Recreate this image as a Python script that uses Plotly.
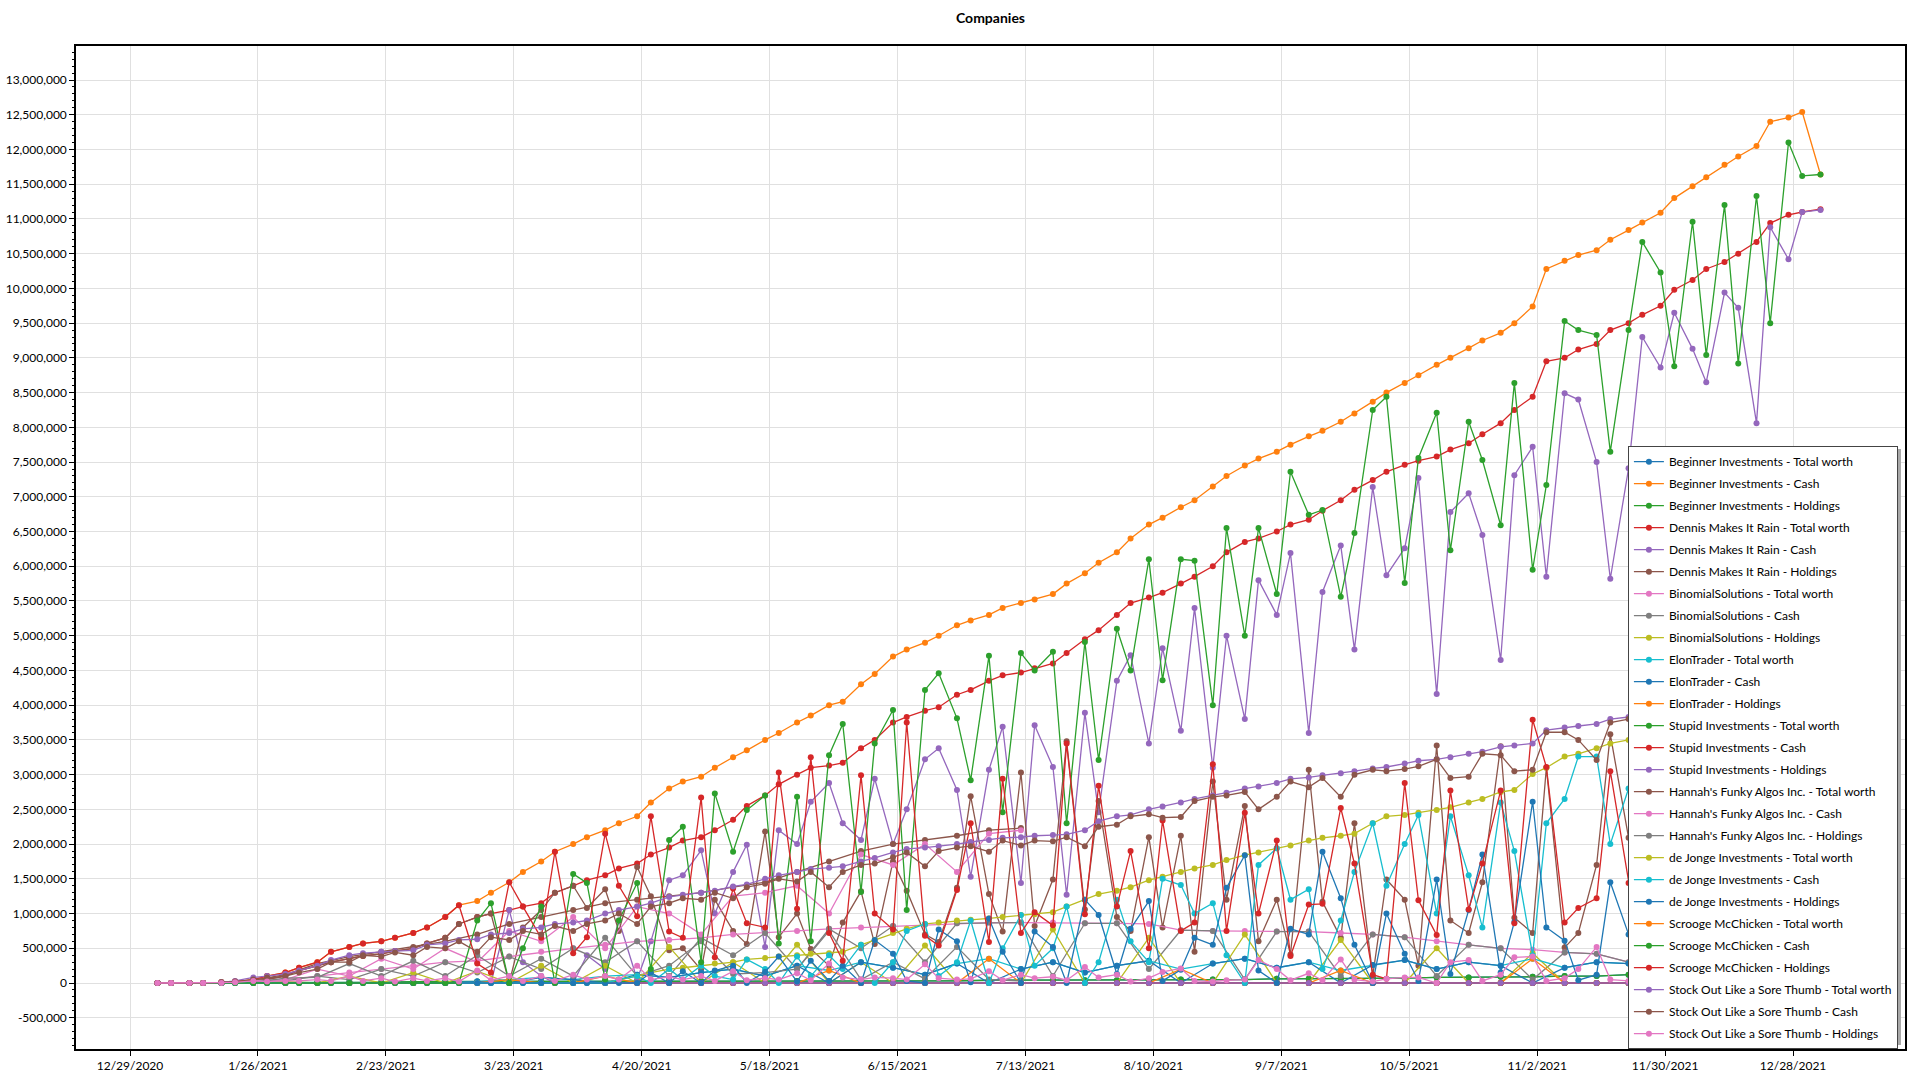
import plotly.graph_objects as go

# ---------------- data (values in millions) ----------------
# weekly sample dates (Mondays)
DATES = ["2021-01-04", "2021-01-11", "2021-01-18", "2021-01-25", "2021-02-01", "2021-02-08",
         "2021-02-15", "2021-02-22", "2021-03-01", "2021-03-08", "2021-03-15", "2021-03-22",
         "2021-03-29", "2021-04-05", "2021-04-12", "2021-04-19", "2021-04-26", "2021-05-03",
         "2021-05-10", "2021-05-17", "2021-05-24", "2021-05-31", "2021-06-07", "2021-06-14",
         "2021-06-21", "2021-06-28", "2021-07-05", "2021-07-12", "2021-07-19", "2021-07-26",
         "2021-08-02", "2021-08-09", "2021-08-16", "2021-08-23", "2021-08-30", "2021-09-06",
         "2021-09-13", "2021-09-20", "2021-09-27", "2021-10-04", "2021-10-11", "2021-10-18",
         "2021-10-25", "2021-11-01", "2021-11-08", "2021-11-15", "2021-11-22", "2021-11-29",
         "2021-12-06", "2021-12-13", "2021-12-20", "2021-12-27", "2021-12-30", "2022-01-03"]

# twice-weekly sample dates (Mon + Thu)
DATES2 = ["2021-01-04", "2021-01-07", "2021-01-11", "2021-01-14", "2021-01-18", "2021-01-21", "2021-01-25", "2021-01-28",
          "2021-02-01", "2021-02-04", "2021-02-08", "2021-02-11", "2021-02-15", "2021-02-18", "2021-02-22", "2021-02-25",
          "2021-03-01", "2021-03-04", "2021-03-08", "2021-03-11", "2021-03-15", "2021-03-18", "2021-03-22", "2021-03-25", "2021-03-29",
          "2021-04-01", "2021-04-05", "2021-04-08", "2021-04-12", "2021-04-15", "2021-04-19", "2021-04-22", "2021-04-26", "2021-04-29",
          "2021-05-03", "2021-05-06", "2021-05-10", "2021-05-13", "2021-05-17", "2021-05-20", "2021-05-24", "2021-05-27", "2021-05-31",
          "2021-06-03", "2021-06-07", "2021-06-10", "2021-06-14", "2021-06-17", "2021-06-21", "2021-06-24", "2021-06-28",
          "2021-07-01", "2021-07-05", "2021-07-08", "2021-07-12", "2021-07-15", "2021-07-19", "2021-07-22", "2021-07-26", "2021-07-29",
          "2021-08-02", "2021-08-05", "2021-08-09", "2021-08-12", "2021-08-16", "2021-08-19", "2021-08-23", "2021-08-26", "2021-08-30",
          "2021-09-02", "2021-09-06", "2021-09-09", "2021-09-13", "2021-09-16", "2021-09-20", "2021-09-23", "2021-09-27", "2021-09-30",
          "2021-10-04", "2021-10-07", "2021-10-11", "2021-10-14", "2021-10-18", "2021-10-21", "2021-10-25", "2021-10-28",
          "2021-11-01", "2021-11-04", "2021-11-08", "2021-11-11", "2021-11-15", "2021-11-18", "2021-11-22", "2021-11-25", "2021-11-29",
          "2021-12-02", "2021-12-06", "2021-12-09", "2021-12-13", "2021-12-16", "2021-12-20", "2021-12-23", "2021-12-27", "2021-12-30",
          "2022-01-03"]

beginner_total = [0, 0, 0, 0, 0.01, 0.01, 0.01, 0.01, 0.02, 0.02,
                  0.02, 0.02, 0.02, 0.02, 0.03, 0.03, 0.03, 0.03, 0.03, 0.03,
                  0.03, 0.03, 0.03, 0.03, 0.03, 0.03, 0.04, 0.04, 0.04, 0.04,
                  0.04, 0.04, 0.05, 0.05, 0.05, 0.06, 0.06, 0.06, 0.07, 0.07,
                  0.08, 0.08, 0.09, 0.09, 0.1, 0.1, 0.12, 0.12, 0.13, 0.13,
                  0.14, 0.14, 0.15, 0.15]
beginner_cash = [0, 0, 0, 0, 0, 0, 0, 0, 0, 0,
                 0, 0, 0, 0, 0, 0, 0, 0, 0, 0,
                 0, 0, 0, 0, 0, 0, 0, 0, 0, 0,
                 0, 0, 0, 0, 0, 0, 0, 0, 0, 0,
                 0, 0, 0, 0, 0, 0, 0, 0, 0, 0,
                 0, 0, 0, 0]
beginner_hold = [0, 0, 0, 0, 0.01, 0.01, 0.01, 0.01, 0.02, 0.02,
                 0.02, 0.02, 0.02, 0.02, 0.03, 0.03, 0.03, 0.03, 0.03, 0.03,
                 0.03, 0.03, 0.03, 0.03, 0.03, 0.03, 0.04, 0.04, 0.04, 0.04,
                 0.04, 0.04, 0.05, 0.05, 0.05, 0.06, 0.06, 0.06, 0.07, 0.07,
                 0.08, 0.08, 0.09, 0.09, 0.1, 0.1, 0.12, 0.12, 0.13, 0.13,
                 0.14, 0.14, 0.15, 0.15]

# Dennis Makes It Rain (DATES2)
dennis_total = [0, 0, 0, 0, 0, 0.01, 0.02, 0.05,
                0.1, 0.18, 0.25, 0.3, 0.35, 0.39, 0.42, 0.46,
                0.5, 0.57, 0.65, 0.85, 0.95, 1.0, 1.05, 1.1, 1.15,
                1.3, 1.4, 1.48, 1.55, 1.65, 1.72, 1.85, 1.95, 2.05,
                2.1, 2.2, 2.35, 2.55, 2.7, 2.86, 3.0, 3.1, 3.13,
                3.17, 3.38, 3.5, 3.75, 3.83, 3.92, 3.97, 4.15,
                4.22, 4.35, 4.43, 4.47, 4.53, 4.6, 4.75, 4.95, 5.08,
                5.3, 5.47, 5.55, 5.62, 5.75, 5.85, 6.0, 6.2, 6.35,
                6.4, 6.5, 6.6, 6.67, 6.8, 6.95, 7.1, 7.24, 7.36,
                7.46, 7.52, 7.58, 7.68, 7.77, 7.9, 8.06, 8.25,
                8.44, 8.95, 9.0, 9.12, 9.2, 9.4, 9.5, 9.62, 9.75,
                9.98, 10.12, 10.28, 10.38, 10.5, 10.67, 10.94, 11.06, 11.1,
                11.14]
dennis_cash = [0, 0, 0, 0, 0, 0, 0, 0,
               0, 0, 0, 0, 0, 0, 0, 0,
               0, 0, 0, 0, 0, 0, 1.05, 0.3, 0.1,
               0.0, 0.0, 0.4, 0.2, 0.9, 0.05, 0.6, 1.48, 1.55,
               1.91, 1.0, 1.6, 1.99, 0.52, 2.2, 2.0, 2.61, 2.88,
               2.3, 2.06, 2.94, 2.0, 2.5, 3.22, 3.38, 2.78,
               1.53, 3.07, 3.69, 1.44, 3.71, 3.11, 1.27, 3.89, 2.46,
               4.35, 4.72, 3.45, 4.82, 3.63, 5.4, 3.1, 5.0, 3.8,
               5.8, 5.3, 6.19, 3.6, 5.63, 6.3, 4.8, 7.14, 5.87,
               6.26, 7.27, 4.16, 6.78, 7.05, 6.45, 4.65, 7.31,
               7.72, 5.85, 8.49, 8.4, 7.5, 5.82, 7.41, 9.3, 8.86,
               9.65, 9.13, 8.65, 9.94, 9.72, 8.06, 10.88, 10.42, 11.1,
               11.13]
dennis_hold = [0, 0, 0, 0, 0, 0.01, 0.02, 0.05,
               0.1, 0.18, 0.25, 0.3, 0.35, 0.39, 0.42, 0.46,
               0.5, 0.57, 0.65, 0.85, 0.95, 1.0, 0.0, 0.8, 1.05,
               1.3, 1.4, 1.08, 1.35, 0.75, 1.67, 1.25, 0.47, 0.5,
               0.19, 1.2, 0.75, 0.56, 2.18, 0.66, 1.0, 0.49, 0.25,
               0.87, 1.32, 0.56, 1.75, 1.33, 0.7, 0.59, 1.37,
               2.69, 1.28, 0.74, 3.03, 0.82, 1.49, 3.48, 1.06, 2.62,
               0.95, 0.75, 2.1, 0.8, 2.12, 0.45, 2.9, 1.2, 2.55,
               0.6, 1.2, 0.41, 3.07, 1.17, 0.65, 2.3, 0.1, 1.49,
               1.2, 0.25, 3.42, 0.9, 0.72, 1.45, 3.41, 0.94,
               0.72, 3.1, 0.51, 0.72, 1.7, 3.58, 2.09, 0.32, 0.89,
               0.33, 0.99, 1.63, 0.44, 0.78, 2.61, 0.06, 0.64, 0.0,
               0.01]

binomial_total = [0, 0, 0, 0.02, 0.05, 0.1, 0.15, 0.2, 0.25, 0.3,
                  0.32, 0.38, 0.45, 0.5, 0.55, 0.6, 0.62, 0.65, 0.7, 0.72,
                  0.75, 0.78, 0.8, 0.82, 0.84, 0.86, 0.87, 0.87, 0.87, 0.86,
                  0.86, 0.85, 0.76, 0.75, 0.75, 0.74, 0.74, 0.72, 0.7, 0.66,
                  0.6, 0.55, 0.5, 0.48, 0.44, 0.42, 0.3, 0.29, 0.28, 0.27,
                  0.26, 0.25, 0.25, 0.25]
binomial_cash = [0, 0, 0, 0.02, 0.03, 0.1, 0.05, 0.2, 0.1, 0.3,
                 0.15, 0.38, 0.2, 0.5, 0.3, 0.6, 0.1, 0.65, 0.4, 0.72,
                 0.2, 0.78, 0.5, 0.82, 0.3, 0.86, 0.87, 0.87, 0.1, 0.86,
                 0.86, 0.2, 0.76, 0.75, 0.05, 0.74, 0.74, 0.1, 0.7, 0.66,
                 0.1, 0.55, 0.5, 0.05, 0.44, 0.42, 0.3, 0.29, 0.05, 0.27,
                 0.26, 0.25, 0.25, 0.25]
binomial_hold = [0, 0, 0, 0, 0.02, 0, 0.1, 0, 0.15, 0,
                 0.17, 0, 0.25, 0, 0.25, 0, 0.52, 0, 0.3, 0,
                 0.55, 0, 0.3, 0, 0.54, 0, 0, 0, 0.77, 0,
                 0, 0.65, 0, 0, 0.7, 0, 0, 0.62, 0, 0,
                 0.5, 0, 0, 0.43, 0, 0, 0, 0, 0.23, 0,
                 0, 0, 0, 0]

elon_total = [0, 0, 0, 0, 0, 0, 0, 0, 0, 0,
              0.02, 0.05, 0.08, 0.05, 0.1, 0.12, 0.08, 0.15, 0.2, 0.1,
              0.25, 0.18, 0.3, 0.22, 0.12, 0.28, 0.35, 0.2, 0.3, 0.15,
              0.25, 0.32, 0.2, 0.28, 0.35, 0.22, 0.3, 0.18, 0.26, 0.33,
              0.2, 0.3, 0.25, 0.35, 0.22, 0.3, 0.28, 0.3, 0.32, 0.3,
              0.33, 0.35, 0.35, 0.35]
elon_cash = [0, 0, 0, 0, 0, 0, 0, 0, 0, 0,
             0.02, 0.0, 0.08, 0.05, 0.0, 0.12, 0.08, 0.15, 0.2, 0.1,
             0.25, 0.0, 0.3, 0.22, 0.12, 0.28, 0.0, 0.2, 0.3, 0.15,
             0.25, 0.32, 0.0, 0.28, 0.35, 0.22, 0.3, 0.0, 0.26, 0.33,
             0.2, 0.3, 0.25, 0.0, 0.22, 0.3, 0.28, 0.3, 0.32, 0.3,
             0.33, 0.35, 0.35, 0.35]
elon_hold = [0, 0, 0, 0, 0, 0, 0, 0, 0, 0,
             0, 0.05, 0, 0, 0.1, 0, 0, 0, 0, 0,
             0, 0.18, 0, 0, 0, 0, 0.35, 0, 0, 0,
             0, 0, 0.2, 0, 0, 0, 0, 0.18, 0, 0,
             0, 0, 0, 0.35, 0, 0, 0, 0, 0, 0,
             0, 0, 0, 0]

stupid_total = [0, 0, 0, 0, 0, 0, 0, 0, 0, 0,
                0, 0, 0, 0, 0, 0, 0, 0, 0, 0,
                0, 0, 0, 0, 0, 0, 0, 0, 0, 0,
                0, 0, 0, 0, 0, 0, 0, 0, 0, 0,
                0, 0, 0, 0, 0, 0, 0, 0, 0, 0,
                0, 0, 0, 0]
stupid_cash = [0, 0, 0, 0, 0, 0, 0, 0, 0, 0,
               0, 0, 0, 0, 0, 0, 0, 0, 0, 0,
               0, 0, 0, 0, 0, 0, 0, 0, 0, 0,
               0, 0, 0, 0, 0, 0, 0, 0, 0, 0,
               0, 0, 0, 0, 0, 0, 0, 0, 0, 0,
               0, 0, 0, 0]
stupid_hold = [0, 0, 0, 0, 0, 0, 0, 0, 0, 0,
               0, 0, 0, 0, 0, 0, 0, 0, 0, 0,
               0, 0, 0, 0, 0, 0, 0, 0, 0, 0,
               0, 0, 0, 0, 0, 0, 0, 0, 0, 0,
               0, 0, 0, 0, 0, 0, 0, 0, 0, 0,
               0, 0, 0, 0]

hannah_total = [0, 0, 0.01, 0.04, 0.12, 0.28, 0.38, 0.45, 0.52, 0.6,
                0.7, 0.85, 0.95, 1.05, 1.15, 1.2, 1.25, 1.3, 1.38, 1.45,
                1.6, 1.75, 1.9, 2.0, 2.06, 2.12, 2.2, 2.23, None, None,
                None, None, None, None, None, None, None, None, None, None,
                None, None, None, None, None, None, None, None, None, None,
                None, None, None, None]
hannah_cash = [0, 0, 0, 0.03, 0.05, 0.2, 0.1, 0.35, 0.2, 0.5,
               0.3, 0.75, 0.6, 0.95, 0.5, 1.1, 1.0, 0.7, 1.25, 1.3,
               1.4, 1.0, 1.85, 1.7, 2.0, 1.6, 2.15, 2.2, None, None,
               None, None, None, None, None, None, None, None, None, None,
               None, None, None, None, None, None, None, None, None, None,
               None, None, None, None]
hannah_hold = [0, 0, 0.01, 0.01, 0.07, 0.08, 0.28, 0.1, 0.32, 0.1,
               0.4, 0.1, 0.35, 0.1, 0.65, 0.1, 0.25, 0.6, 0.13, 0.15,
               0.2, 0.75, 0.05, 0.3, 0.06, 0.52, 0.05, 0.03, None, None,
               None, None, None, None, None, None, None, None, None, None,
               None, None, None, None, None, None, None, None, None, None,
               None, None, None, None]

# de Jonge Investments (DATES2)
dejonge_total = [0, 0, 0, 0, 0, 0, 0, 0,
                 0, 0, 0, 0, 0, 0, 0, 0,
                 0, 0, 0, 0, 0, 0, 0, 0, 0,
                 0, 0, 0, 0, 0.05, 0.1, 0.15, 0.2, 0.22,
                 0.25, 0.28, 0.3, 0.34, 0.36, 0.38, 0.4, 0.42, 0.43,
                 0.45, 0.55, 0.62, 0.72, 0.78, 0.85, 0.87, 0.9,
                 0.91, 0.93, 0.95, 0.98, 0.99, 1.02, 1.1, 1.2, 1.28,
                 1.33, 1.38, 1.48, 1.53, 1.6, 1.65, 1.7, 1.77, 1.84,
                 1.88, 1.94, 1.98, 2.05, 2.09, 2.12, 2.15, 2.3, 2.4,
                 2.42, 2.45, 2.49, 2.53, 2.6, 2.65, 2.75, 2.78,
                 3.01, 3.1, 3.26, 3.3, 3.38, 3.45, 3.5, 3.52, 3.55,
                 3.58, 3.6, 3.62, 3.65, 3.68, 3.7, 3.72, 3.75, 3.75,
                 3.78]
dejonge_cash = [0, 0, 0, 0, 0, 0, 0, 0,
                0, 0, 0, 0, 0, 0, 0, 0,
                0, 0, 0, 0, 0, 0, 0, 0, 0,
                0, 0, 0, 0, 0.05, 0.1, 0.0, 0.2, 0.05,
                0.25, 0.1, 0.05, 0.34, 0.2, 0.0, 0.38, 0.1, 0.4,
                0.2, 0.55, 0.0, 0.3, 0.75, 0.85, 0.1, 0.3,
                0.9, 0.0, 0.5, 0.98, 0.25, 0.5, 1.1, 0.0, 0.3,
                1.2, 0.6, 0.3, 1.5, 1.41, 1.0, 1.15, 0.4, 0.0,
                1.7, 1.94, 1.2, 1.35, 0.2, 0.9, 1.6, 2.3, 1.4,
                2.0, 2.42, 1.0, 2.4, 1.55, 0.8, 2.6, 1.9,
                0.4, 2.3, 2.65, 3.26, 3.26, 2.0, 2.8, 3.5, 3.2,
                1.9, 3.5, 3.6, 2.5, 3.3, 3.7, 2.9, 3.7, 3.7,
                3.7]
dejonge_hold = [0, 0, 0, 0, 0, 0, 0, 0,
                0, 0, 0, 0, 0, 0, 0, 0,
                0, 0, 0, 0, 0, 0, 0, 0, 0,
                0, 0, 0, 0, 0, 0, 0.15, 0, 0.17,
                0, 0.18, 0.25, 0, 0.16, 0.38, 0.02, 0.32, 0.03,
                0.25, 0, 0.62, 0.42, 0.03, 0, 0.77, 0.6,
                0.01, 0.93, 0.45, 0, 0.74, 0.52, 0, 1.2, 0.98,
                0.13, 0.78, 1.18, 0.03, 0.19, 0.65, 0.55, 1.37, 1.84,
                0.18, 0, 0.78, 0.7, 1.89, 1.22, 0.55, 0, 1.0,
                0.42, 0.03, 1.49, 0.13, 1.05, 1.85, 0.15, 0.88,
                2.61, 0.8, 0.61, 0.04, 0.12, 1.45, 0.7, 0.02, 0.35,
                1.68, 0.1, 0.02, 1.15, 0.38, 0, 0.82, 0.05, 0.05,
                0.08]

# Scrooge McChicken (DATES2)
scrooge_total = [0, 0, 0, 0, 0.01, 0.02, 0.05, 0.1,
                 0.15, 0.22, 0.3, 0.45, 0.52, 0.57, 0.6, 0.65,
                 0.72, 0.8, 0.95, 1.12, 1.18, 1.3, 1.45, 1.6, 1.75,
                 1.89, 2.0, 2.1, 2.2, 2.3, 2.4, 2.6, 2.8, 2.9,
                 2.97, 3.1, 3.25, 3.35, 3.5, 3.6, 3.75, 3.85, 4.0,
                 4.05, 4.3, 4.45, 4.7, 4.8, 4.9, 5.0, 5.15,
                 5.22, 5.3, 5.4, 5.47, 5.52, 5.6, 5.75, 5.9, 6.05,
                 6.2, 6.4, 6.6, 6.7, 6.85, 6.95, 7.15, 7.3, 7.45,
                 7.55, 7.65, 7.75, 7.87, 7.95, 8.08, 8.2, 8.37, 8.5,
                 8.64, 8.75, 8.9, 9.0, 9.14, 9.25, 9.36, 9.5,
                 9.74, 10.28, 10.4, 10.48, 10.55, 10.7, 10.84, 10.95, 11.09,
                 11.3, 11.47, 11.6, 11.78, 11.9, 12.05, 12.4, 12.46, 12.54,
                 11.64]
scrooge_cash = [0, 0, 0, 0, 0, 0, 0, 0,
                0, 0, 0, 0, 0, 0, 0, 0,
                0, 0, 0, 0, 0.9, 1.15, 0.0, 0.5, 1.1,
                0.0, 1.57, 1.44, 0.05, 0.9, 1.44, 0.2, 2.06, 2.25,
                0.3, 2.73, 1.89, 2.49, 2.7, 0.57, 2.68, 0.6, 3.28,
                3.73, 1.31, 3.45, 3.93, 1.05, 4.22, 4.46, 3.81,
                2.92, 4.71, 2.46, 4.75, 4.5, 4.77, 2.3, 4.91, 3.21,
                5.1, 4.5, 6.1, 4.36, 6.1, 6.08, 4.0, 6.55, 5.0,
                6.55, 5.6, 7.36, 6.74, 6.81, 5.56, 6.48, 8.25, 8.44,
                5.76, 7.56, 8.21, 6.23, 8.08, 7.53, 6.59, 8.64,
                5.95, 7.17, 9.53, 9.4, 9.33, 7.65, 9.4, 10.67, 10.23,
                8.88, 10.96, 9.04, 11.2, 8.92, 11.33, 9.5, 12.1, 11.62,
                11.64]
scrooge_hold = [0, 0, 0, 0, 0.01, 0.02, 0.05, 0.1,
                0.15, 0.22, 0.3, 0.45, 0.52, 0.57, 0.6, 0.65,
                0.72, 0.8, 0.95, 1.12, 0.28, 0.15, 1.45, 1.1, 0.65,
                1.89, 0.43, 0.66, 2.15, 1.4, 0.96, 2.4, 0.74, 0.65,
                2.67, 0.37, 1.36, 0.86, 0.8, 3.03, 1.07, 3.25, 0.72,
                0.32, 2.99, 1.0, 0.77, 3.75, 0.68, 0.54, 1.34,
                2.3, 0.59, 2.94, 0.72, 1.02, 0.83, 3.45, 0.99, 2.84,
                1.1, 1.9, 0.5, 2.34, 0.75, 0.87, 3.15, 0.75, 2.45,
                1.0, 2.05, 0.39, 1.13, 1.14, 2.52, 1.72, 0.12, 0.06,
                2.88, 1.19, 0.69, 2.77, 1.06, 1.72, 2.77, 0.86,
                3.79, 3.11, 0.87, 1.08, 1.22, 3.05, 1.44, 0.28, 0.86,
                2.42, 0.51, 2.56, 0.58, 2.98, 0.72, 2.9, 0.36, 0.92,
                0.0]

# Stock Out Like a Sore Thumb (DATES2)
stockout_total = [0, 0, 0, 0, 0.01, 0.03, 0.08, 0.1,
                  0.13, 0.18, 0.25, 0.33, 0.4, 0.43, 0.45, 0.46,
                  0.47, 0.55, 0.57, 0.62, 0.63, 0.7, 0.72, 0.78, 0.8,
                  0.85, 0.87, 0.9, 1.0, 1.05, 1.1, 1.15, 1.24, 1.27,
                  1.3, 1.33, 1.39, 1.42, 1.5, 1.55, 1.6, 1.64, 1.66,
                  1.68, 1.75, 1.8, 1.88, 1.93, 1.95, 1.97, 2.0,
                  2.03, 2.06, 2.09, 2.1, 2.12, 2.13, 2.14, 2.2, 2.33,
                  2.4, 2.42, 2.5, 2.54, 2.6, 2.65, 2.7, 2.74, 2.8,
                  2.83, 2.88, 2.94, 2.96, 2.99, 3.02, 3.05, 3.09, 3.11,
                  3.16, 3.2, 3.22, 3.25, 3.3, 3.33, 3.4, 3.42,
                  3.45, 3.64, 3.68, 3.7, 3.73, 3.8, 3.83, 3.84, 3.86,
                  3.88, 3.9, 3.92, 3.95, 3.97, 4.0, 4.02, 4.05, 4.07,
                  4.1]
stockout_cash = [0, 0, 0, 0, 0.01, 0.02, 0.05, 0.08,
                 0.1, 0.15, 0.2, 0.3, 0.3, 0.4, 0.38, 0.44,
                 0.4, 0.52, 0.5, 0.6, 0.45, 0.66, 0.62, 0.75, 0.7,
                 0.82, 0.75, 0.85, 0.9, 1.0, 0.85, 1.1, 1.15, 1.22,
                 1.2, 1.3, 1.22, 1.38, 1.43, 1.5, 1.46, 1.6, 1.38,
                 1.6, 1.7, 1.72, 1.81, 1.88, 1.68, 1.9, 1.95,
                 1.97, 1.89, 2.05, 1.98, 2.05, 2.04, 2.1, 1.97, 2.25,
                 2.28, 2.4, 2.43, 2.38, 2.39, 2.62, 2.68, 2.7, 2.75,
                 2.5, 2.68, 2.9, 2.82, 2.95, 2.68, 3.0, 3.07, 3.05,
                 3.08, 3.12, 3.22, 2.95, 2.97, 3.3, 3.28, 3.05,
                 3.07, 3.61, 3.61, 3.5, 3.21, 3.75, 3.8, 3.75, 3.8,
                 3.85, 3.85, 3.88, 3.85, 3.92, 3.9, 3.98, 3.95, 4.0,
                 4.0]
stockout_hold = [0, 0, 0, 0, 0, 0.01, 0.03, 0.02,
                 0.03, 0.03, 0.05, 0.03, 0.1, 0.03, 0.07, 0.02,
                 0.07, 0.03, 0.07, 0.02, 0.18, 0.04, 0.1, 0.03, 0.1,
                 0.03, 0.12, 0.05, 0.1, 0.05, 0.25, 0.05, 0.09, 0.05,
                 0.1, 0.03, 0.17, 0.04, 0.07, 0.05, 0.14, 0.04, 0.28,
                 0.08, 0.05, 0.08, 0.07, 0.05, 0.27, 0.07, 0.05,
                 0.06, 0.17, 0.04, 0.12, 0.07, 0.09, 0.04, 0.23, 0.08,
                 0.12, 0.02, 0.07, 0.16, 0.21, 0.03, 0.02, 0.04, 0.05,
                 0.33, 0.2, 0.04, 0.14, 0.04, 0.34, 0.05, 0.02, 0.06,
                 0.08, 0.08, 0.0, 0.3, 0.33, 0.03, 0.12, 0.37,
                 0.38, 0.03, 0.07, 0.2, 0.52, 0.05, 0.03, 0.09, 0.06,
                 0.03, 0.05, 0.04, 0.1, 0.05, 0.1, 0.04, 0.1, 0.07,
                 0.1]

SERIES = [
    ("Beginner Investments - Total worth", DATES, beginner_total),
    ("Beginner Investments - Cash", DATES, beginner_cash),
    ("Beginner Investments - Holdings", DATES, beginner_hold),
    ("Dennis Makes It Rain - Total worth", DATES2, dennis_total),
    ("Dennis Makes It Rain - Cash", DATES2, dennis_cash),
    ("Dennis Makes It Rain - Holdings", DATES2, dennis_hold),
    ("BinomialSolutions - Total worth", DATES, binomial_total),
    ("BinomialSolutions - Cash", DATES, binomial_cash),
    ("BinomialSolutions - Holdings", DATES, binomial_hold),
    ("ElonTrader - Total worth", DATES, elon_total),
    ("ElonTrader - Cash", DATES, elon_cash),
    ("ElonTrader - Holdings", DATES, elon_hold),
    ("Stupid Investments - Total worth", DATES, stupid_total),
    ("Stupid Investments - Cash", DATES, stupid_cash),
    ("Stupid Investments - Holdings", DATES, stupid_hold),
    ("Hannah's Funky Algos Inc. - Total worth", DATES, hannah_total),
    ("Hannah's Funky Algos Inc. - Cash", DATES, hannah_cash),
    ("Hannah's Funky Algos Inc. - Holdings", DATES, hannah_hold),
    ("de Jonge Investments - Total worth", DATES2, dejonge_total),
    ("de Jonge Investments - Cash", DATES2, dejonge_cash),
    ("de Jonge Investments - Holdings", DATES2, dejonge_hold),
    ("Scrooge McChicken - Total worth", DATES2, scrooge_total),
    ("Scrooge McChicken - Cash", DATES2, scrooge_cash),
    ("Scrooge McChicken - Holdings", DATES2, scrooge_hold),
    ("Stock Out Like a Sore Thumb - Total worth", DATES2, stockout_total),
    ("Stock Out Like a Sore Thumb - Cash", DATES2, stockout_cash),
    ("Stock Out Like a Sore Thumb - Holdings", DATES2, stockout_hold),
]

Y_TICKS = [-500000, 0, 500000, 1000000, 1500000, 2000000, 2500000, 3000000, 3500000,
           4000000, 4500000, 5000000, 5500000, 6000000, 6500000, 7000000, 7500000,
           8000000, 8500000, 9000000, 9500000, 10000000, 10500000, 11000000, 11500000,
           12000000, 12500000, 13000000]
X_TICKS = ["2020-12-29", "2021-01-26", "2021-02-23", "2021-03-23", "2021-04-20", "2021-05-18",
           "2021-06-15", "2021-07-13", "2021-08-10", "2021-09-07", "2021-10-05", "2021-11-02",
           "2021-11-30", "2021-12-28"]
X_LABELS = ["12/29/2020", "1/26/2021", "2/23/2021", "3/23/2021", "4/20/2021", "5/18/2021",
            "6/15/2021", "7/13/2021", "8/10/2021", "9/7/2021", "10/5/2021", "11/2/2021",
            "11/30/2021", "12/28/2021"]

COLORS = ["#1f77b4", "#ff7f0e", "#2ca02c", "#d62728", "#9467bd",
          "#8c564b", "#e377c2", "#7f7f7f", "#bcbd22", "#17becf"]

FONT = "Segoe UI, Lato, Open Sans, sans-serif"

fig = go.Figure()
for i, (name, xs, vals) in enumerate(SERIES):
    c = COLORS[i % len(COLORS)]
    fig.add_trace(go.Scatter(
        x=xs,
        y=[None if v is None else v * 1e6 for v in vals],
        name=name,
        legendgroup=f"g{i}",
        mode="lines+markers",
        line=dict(color=c, width=1.3),
        marker=dict(color=c, size=6),
        connectgaps=False,
    ))

# soft drop shadow behind the legend box (right / bottom)
fig.add_shape(type="rect", xref="paper", yref="paper",
              x0=0.8502, x1=0.9978, y0=0.0040, y1=0.5982,
              fillcolor="#a8a8a8", line=dict(width=0), layer="above")

fig.update_layout(
    width=1920, height=1080,
    margin=dict(l=76, r=15, t=46, b=31),
    paper_bgcolor="white", plot_bgcolor="white",
    font=dict(family=FONT, size=12, color="#000000"),
    title=dict(text="<b>Companies</b>", x=0.5, xref="paper", xanchor="center",
               y=1 - 18 / 1080, yref="container", yanchor="middle",
               font=dict(family=FONT, size=14, color="#000000")),
    showlegend=True,
    legend=dict(x=0.8485, y=0.601, xanchor="left", yanchor="top",
                bgcolor="white", bordercolor="#444444", borderwidth=1,
                font=dict(family=FONT, size=12, color="#000000"),
                itemwidth=30, tracegroupgap=3, groupclick="toggleitem"),
    xaxis=dict(type="date", range=["2020-12-17 04:20", "2022-01-21 12:00"],
               tickvals=X_TICKS, ticktext=X_LABELS, automargin=False,
               showgrid=True, gridcolor="#e0e0e0", gridwidth=1,
               showline=True, linecolor="black", linewidth=1.5, mirror=True,
               ticks="outside", ticklen=5, tickcolor="black", zeroline=False),
    yaxis=dict(range=[-950000, 13490000], automargin=False,
               tickvals=Y_TICKS, ticktext=[f"{v:,}" for v in Y_TICKS],
               showgrid=True, gridcolor="#e0e0e0", gridwidth=1,
               showline=True, linecolor="black", linewidth=1.5, mirror=True,
               ticks="outside", ticklen=5, tickcolor="black", zeroline=False,
               minor=dict(dtick=100000, ticks="outside", ticklen=2, tickcolor="black",
                          showgrid=False)),
)

fig.write_html("out.html", include_plotlyjs=True, full_html=True,
               config={"displayModeBar": False},
               post_script="document.body.style.margin='0';document.body.style.overflow='hidden';")
